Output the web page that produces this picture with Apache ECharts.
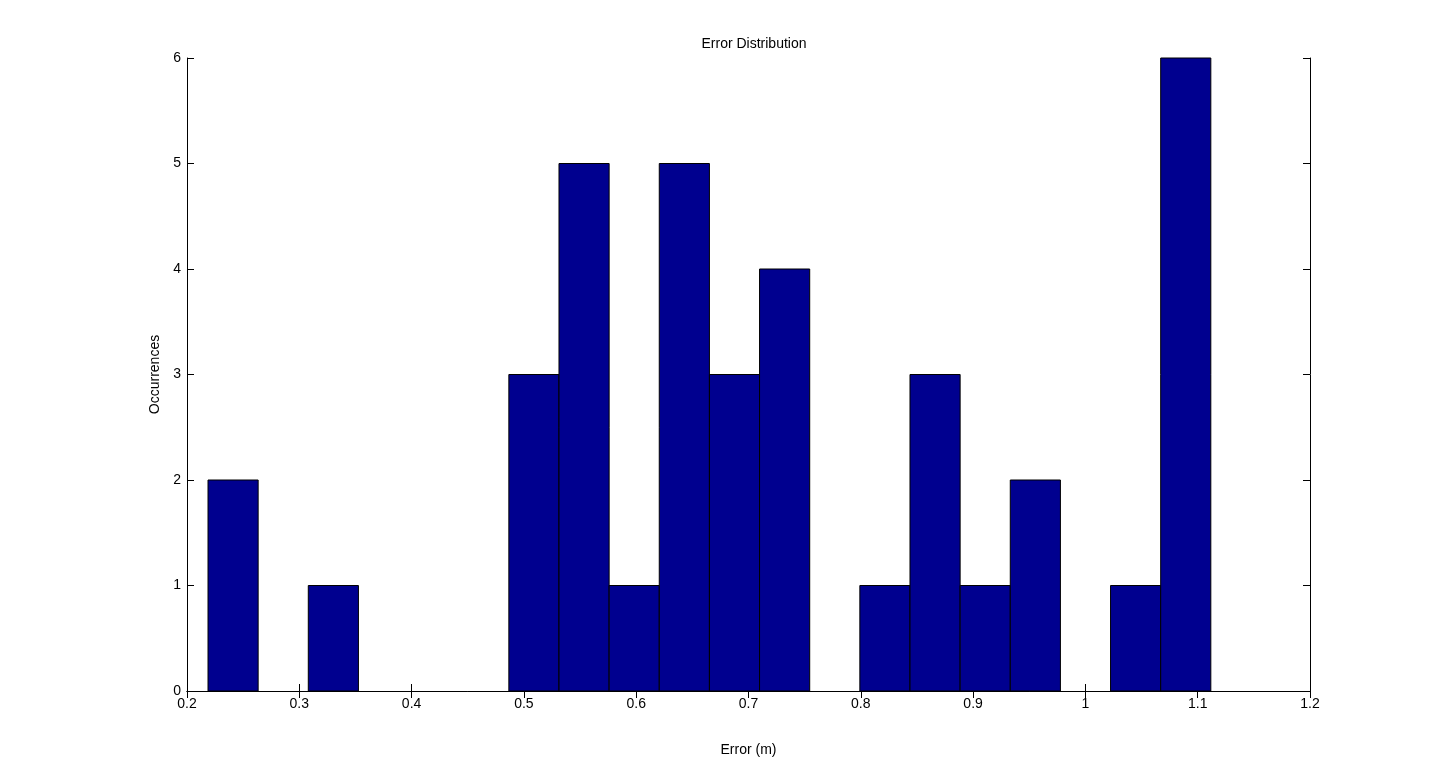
<!DOCTYPE html>
<html><head><meta charset="utf-8">
<script src="https://cdn.jsdelivr.net/npm/echarts@6/dist/echarts.min.js"></script>
<style>html,body{margin:0;padding:0;background:#fff}#c{width:1449px;height:777px}</style>
</head><body><div id="c"></div>
<script>
const binStart = 0.2187;
const binWidth = 0.04465;
const counts = [2,0,1,0,0,0,3,5,1,5,3,4,0,1,3,1,2,0,1,6];
const xTicks = [0.2,0.3,0.4,0.5,0.6,0.7,0.8,0.9,1,1.1,1.2];
const yTicks = [0,1,2,3,4,5,6];

const data = counts.map((c,i)=>[binStart+i*binWidth, binStart+(i+1)*binWidth, c]);
const font = 'Liberation Sans, Arial, sans-serif';
const axCommon = {
  axisLine:{show:true,lineStyle:{color:'#000',width:1}},
  axisTick:{show:true,inside:true,length:7,lineStyle:{color:'#000'}},
  splitLine:{show:false}
};
const chart = echarts.init(document.getElementById('c'));
chart.setOption({
  animation:false,
  title:{text:'Error Distribution',left:749,top:32,textAlign:'center',textStyle:{fontFamily:font,fontSize:14,fontWeight:'normal',color:'#000'}},
  grid:{left:187,right:139,top:58,bottom:86},
  xAxis:[
    Object.assign({type:'value',min:0.2,max:1.2,interval:0.1,name:'Error (m)',nameLocation:'middle',nameGap:52,
      nameTextStyle:{fontFamily:font,fontSize:14,color:'#000'},
      axisLabel:{fontFamily:font,fontSize:14,color:'#000',margin:6,formatter:v=>String(+v.toFixed(1))}},axCommon),
    Object.assign({type:'value',position:'top',min:0.2,max:1.2,interval:0.1,axisLabel:{show:false}},axCommon)
  ],
  yAxis:[
    Object.assign({type:'value',min:0,max:6,interval:1,name:'Occurrences',nameLocation:'middle',nameGap:24,
      nameTextStyle:{fontFamily:font,fontSize:14,color:'#000'},
      axisLabel:{fontFamily:font,fontSize:14,color:'#000',margin:6}},axCommon),
    Object.assign({type:'value',position:'right',min:0,max:6,interval:1,axisLabel:{show:false}},axCommon)
  ],
  series:[{
    type:'custom',
    data:data,
    renderItem:(params,api)=>{
      if (api.value(2) === 0) return null;
      const p0 = api.coord([api.value(0),0]);
      const p1 = api.coord([api.value(1),api.value(2)]);
      return {type:'rect',shape:{x:p0[0],y:p1[1],width:p1[0]-p0[0],height:p0[1]-p1[1]},
        style:{fill:'#00008f',stroke:'#000',lineWidth:1}};
    },
    encode:{x:[0,1],y:2}
  }]
});
</script></body></html>
